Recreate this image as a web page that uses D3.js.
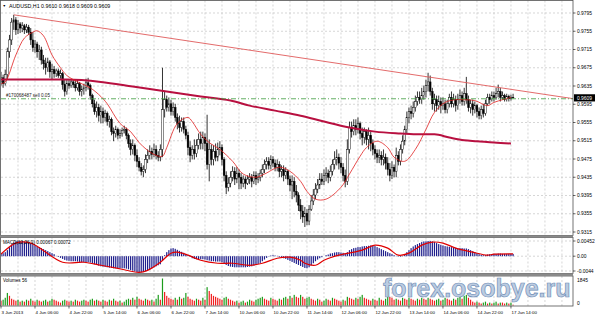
<!DOCTYPE html>
<html><head><meta charset="utf-8">
<script src="https://cdn.jsdelivr.net/npm/d3@7/dist/d3.min.js"></script>
<style>html,body{margin:0;padding:0;background:#fff;}svg{display:block;}</style>
</head><body>
<svg id="chart" width="595" height="316"></svg>
<script>
// ---------------- DATA (AUDUSD H1) ----------------
const openP = [
0.9644,0.9653,0.9640,0.9660,0.9710,0.9736,0.9775,0.9780,0.9758,0.9771,
0.9762,0.9767,0.9758,0.9764,0.9753,0.9736,0.9719,0.9727,0.9710,0.9714,
0.9692,0.9684,0.9675,0.9688,0.9666,0.9671,0.9662,0.9668,0.9658,0.9662,
0.9638,0.9623,0.9640,0.9636,0.9644,0.9638,0.9631,0.9640,0.9623,0.9627,
0.9631,0.9642,0.9636,0.9614,0.9596,0.9579,0.9588,0.9570,0.9579,0.9566,
0.9575,0.9557,0.9562,0.9535,0.9531,0.9540,0.9527,0.9531,0.9538,0.9540,
0.9527,0.9509,0.9496,0.9505,0.9483,0.9470,0.9457,0.9448,0.9452,0.9474,
0.9483,0.9492,0.9485,0.9496,0.9483,0.9479,0.9496,0.9583,0.9605,0.9588,
0.9596,0.9579,0.9588,0.9566,0.9553,0.9544,0.9557,0.9540,0.9527,0.9500,
0.9483,0.9496,0.9487,0.9505,0.9518,0.9509,0.9522,0.9509,0.9463,0.9496,
0.9474,0.9492,0.9479,0.9496,0.9500,0.9474,0.9439,0.9413,0.9422,0.9435,
0.9448,0.9431,0.9444,0.9435,0.9422,0.9431,0.9422,0.9431,0.9435,0.9426,
0.9439,0.9431,0.9435,0.9444,0.9452,0.9463,0.9470,0.9461,0.9474,0.9466,
0.9457,0.9463,0.9448,0.9452,0.9439,0.9448,0.9431,0.9418,0.9426,0.9404,
0.9396,0.9374,0.9361,0.9348,0.9356,0.9339,0.9365,0.9383,0.9396,0.9409,
0.9418,0.9431,0.9426,0.9439,0.9444,0.9435,0.9448,0.9463,0.9474,0.9479,
0.9466,0.9457,0.9439,0.9426,0.9496,0.9544,0.9535,0.9548,0.9540,0.9553,
0.9531,0.9522,0.9535,0.9518,0.9527,0.9509,0.9496,0.9487,0.9479,0.9483,
0.9474,0.9479,0.9466,0.9452,0.9439,0.9457,0.9448,0.9483,0.9470,0.9496,
0.9514,0.9540,0.9566,0.9579,0.9575,0.9588,0.9601,0.9610,0.9605,0.9614,
0.9623,0.9636,0.9644,0.9623,0.9596,0.9605,0.9592,0.9601,0.9592,0.9596,
0.9583,0.9596,0.9610,0.9596,0.9605,0.9592,0.9605,0.9614,0.9601,0.9618,
0.9605,0.9588,0.9596,0.9583,0.9592,0.9579,0.9570,0.9583,0.9575,0.9596,
0.9610,0.9605,0.9614,0.9610,0.9618,0.9623,0.9610,0.9614,0.9605,0.9612,
0.9607,0.9610];
const highP = [
0.9666,0.9660,0.9671,0.9719,0.9747,0.9784,0.9791,0.9786,0.9780,0.9775,
0.9775,0.9771,0.9771,0.9769,0.9762,0.9753,0.9736,0.9732,0.9725,0.9721,
0.9703,0.9697,0.9697,0.9692,0.9684,0.9679,0.9673,0.9673,0.9671,0.9666,
0.9649,0.9649,0.9649,0.9649,0.9649,0.9649,0.9649,0.9644,0.9636,0.9640,
0.9651,0.9653,0.9640,0.9618,0.9605,0.9601,0.9596,0.9592,0.9588,0.9583,
0.9579,0.9570,0.9566,0.9544,0.9548,0.9544,0.9540,0.9544,0.9548,0.9544,
0.9531,0.9518,0.9518,0.9509,0.9496,0.9479,0.9466,0.9461,0.9485,0.9496,
0.9505,0.9500,0.9509,0.9505,0.9492,0.9507,0.9675,0.9623,0.9614,0.9610,
0.9605,0.9599,0.9596,0.9575,0.9570,0.9566,0.9566,0.9548,0.9535,0.9514,
0.9505,0.9518,0.9518,0.9531,0.9535,0.9535,0.9531,0.9572,0.9518,0.9507,
0.9505,0.9509,0.9511,0.9514,0.9507,0.9479,0.9448,0.9435,0.9448,0.9459,
0.9457,0.9457,0.9452,0.9444,0.9439,0.9437,0.9439,0.9444,0.9442,0.9448,
0.9448,0.9444,0.9452,0.9463,0.9474,0.9479,0.9479,0.9483,0.9481,0.9474,
0.9474,0.9470,0.9461,0.9461,0.9457,0.9452,0.9439,0.9439,0.9435,0.9418,
0.9402,0.9387,0.9374,0.9370,0.9365,0.9374,0.9396,0.9409,0.9422,0.9431,
0.9444,0.9444,0.9452,0.9457,0.9452,0.9461,0.9474,0.9492,0.9496,0.9487,
0.9479,0.9466,0.9452,0.9518,0.9557,0.9557,0.9562,0.9562,0.9566,0.9557,
0.9544,0.9544,0.9540,0.9544,0.9535,0.9518,0.9505,0.9496,0.9496,0.9492,
0.9496,0.9487,0.9479,0.9466,0.9470,0.9463,0.9500,0.9492,0.9507,0.9527,
0.9548,0.9579,0.9588,0.9592,0.9601,0.9614,0.9623,0.9623,0.9631,0.9636,
0.9649,0.9664,0.9658,0.9631,0.9618,0.9614,0.9614,0.9610,0.9610,0.9605,
0.9605,0.9618,0.9623,0.9618,0.9614,0.9618,0.9627,0.9623,0.9631,0.9655,
0.9614,0.9605,0.9605,0.9601,0.9596,0.9588,0.9592,0.9596,0.9605,0.9618,
0.9618,0.9623,0.9623,0.9631,0.9638,0.9631,0.9623,0.9618,0.9618,0.9616,
0.9616,0.9618];
const lowP = [
0.9636,0.9631,0.9636,0.9649,0.9697,0.9725,0.9758,0.9747,0.9749,0.9751,
0.9753,0.9749,0.9751,0.9747,0.9725,0.9710,0.9708,0.9697,0.9692,0.9682,
0.9671,0.9660,0.9666,0.9653,0.9649,0.9653,0.9655,0.9653,0.9651,0.9627,
0.9612,0.9616,0.9629,0.9631,0.9631,0.9623,0.9625,0.9614,0.9612,0.9616,
0.9623,0.9627,0.9605,0.9588,0.9572,0.9566,0.9557,0.9553,0.9553,0.9557,
0.9548,0.9544,0.9527,0.9514,0.9522,0.9518,0.9520,0.9524,0.9531,0.9518,
0.9500,0.9483,0.9485,0.9470,0.9457,0.9448,0.9439,0.9435,0.9444,0.9466,
0.9474,0.9474,0.9479,0.9474,0.9470,0.9470,0.9479,0.9566,0.9579,0.9579,
0.9570,0.9570,0.9557,0.9540,0.9533,0.9535,0.9531,0.9518,0.9483,0.9468,
0.9474,0.9474,0.9479,0.9496,0.9496,0.9496,0.9492,0.9452,0.9426,0.9461,
0.9461,0.9470,0.9470,0.9483,0.9461,0.9426,0.9398,0.9404,0.9413,0.9426,
0.9418,0.9422,0.9409,0.9409,0.9413,0.9409,0.9418,0.9420,0.9413,0.9420,
0.9418,0.9422,0.9426,0.9435,0.9444,0.9452,0.9452,0.9452,0.9457,0.9448,
0.9448,0.9435,0.9435,0.9426,0.9431,0.9418,0.9404,0.9387,0.9391,0.9380,
0.9361,0.9343,0.9335,0.9326,0.9330,0.9330,0.9361,0.9374,0.9387,0.9400,
0.9409,0.9418,0.9418,0.9426,0.9422,0.9426,0.9439,0.9452,0.9461,0.9452,
0.9444,0.9426,0.9413,0.9418,0.9487,0.9522,0.9527,0.9527,0.9531,0.9518,
0.9505,0.9509,0.9505,0.9496,0.9492,0.9483,0.9474,0.9466,0.9466,0.9461,
0.9461,0.9452,0.9439,0.9426,0.9431,0.9435,0.9435,0.9461,0.9461,0.9487,
0.9505,0.9531,0.9553,0.9562,0.9566,0.9579,0.9592,0.9596,0.9596,0.9605,
0.9610,0.9623,0.9614,0.9583,0.9579,0.9579,0.9583,0.9575,0.9583,0.9575,
0.9575,0.9588,0.9588,0.9588,0.9579,0.9583,0.9596,0.9592,0.9592,0.9596,
0.9579,0.9575,0.9570,0.9575,0.9566,0.9562,0.9562,0.9566,0.9570,0.9592,
0.9596,0.9601,0.9601,0.9605,0.9610,0.9601,0.9605,0.9601,0.9601,0.9601,
0.9603,0.9609];
const closeP = [
0.9653,0.9640,0.9660,0.9710,0.9736,0.9775,0.9780,0.9758,0.9771,0.9762,
0.9767,0.9758,0.9764,0.9753,0.9736,0.9719,0.9727,0.9710,0.9714,0.9692,
0.9684,0.9675,0.9688,0.9666,0.9671,0.9662,0.9668,0.9658,0.9662,0.9638,
0.9623,0.9640,0.9636,0.9644,0.9638,0.9631,0.9640,0.9623,0.9627,0.9631,
0.9642,0.9636,0.9614,0.9596,0.9579,0.9588,0.9570,0.9579,0.9566,0.9575,
0.9557,0.9562,0.9535,0.9531,0.9540,0.9527,0.9531,0.9538,0.9540,0.9527,
0.9509,0.9496,0.9505,0.9483,0.9470,0.9457,0.9448,0.9452,0.9474,0.9483,
0.9492,0.9485,0.9496,0.9483,0.9479,0.9496,0.9583,0.9605,0.9588,0.9596,
0.9579,0.9588,0.9566,0.9553,0.9544,0.9557,0.9540,0.9527,0.9500,0.9483,
0.9496,0.9487,0.9505,0.9518,0.9509,0.9522,0.9509,0.9463,0.9496,0.9474,
0.9492,0.9479,0.9496,0.9500,0.9474,0.9439,0.9413,0.9422,0.9435,0.9448,
0.9431,0.9444,0.9435,0.9422,0.9431,0.9422,0.9431,0.9435,0.9426,0.9439,
0.9431,0.9435,0.9444,0.9452,0.9463,0.9470,0.9461,0.9474,0.9466,0.9457,
0.9463,0.9448,0.9452,0.9439,0.9448,0.9431,0.9418,0.9426,0.9404,0.9396,
0.9374,0.9361,0.9348,0.9356,0.9339,0.9365,0.9383,0.9396,0.9409,0.9418,
0.9431,0.9426,0.9439,0.9444,0.9435,0.9448,0.9463,0.9474,0.9479,0.9466,
0.9457,0.9439,0.9426,0.9496,0.9544,0.9535,0.9548,0.9540,0.9553,0.9531,
0.9522,0.9535,0.9518,0.9527,0.9509,0.9496,0.9487,0.9479,0.9483,0.9474,
0.9479,0.9466,0.9452,0.9439,0.9457,0.9448,0.9483,0.9470,0.9496,0.9514,
0.9540,0.9566,0.9579,0.9575,0.9588,0.9601,0.9610,0.9605,0.9614,0.9623,
0.9636,0.9644,0.9623,0.9596,0.9605,0.9592,0.9601,0.9592,0.9596,0.9583,
0.9596,0.9610,0.9596,0.9605,0.9592,0.9605,0.9614,0.9601,0.9618,0.9605,
0.9588,0.9596,0.9583,0.9592,0.9579,0.9570,0.9583,0.9575,0.9596,0.9610,
0.9605,0.9614,0.9610,0.9618,0.9623,0.9610,0.9614,0.9605,0.9612,0.9607,
0.9610,0.9609];
const volumes = [
330,396,528,858,660,462,396,330,396,264,
330,264,396,330,462,330,264,396,330,264,
330,396,264,330,462,396,330,264,198,330,
396,330,264,330,264,396,330,264,330,396,
330,264,396,462,330,396,330,264,396,330,
264,396,330,462,330,264,330,198,264,396,
462,396,528,396,594,462,396,330,462,396,
330,396,264,462,726,396,1845,924,660,528,
462,396,528,396,594,462,528,858,594,462,
396,330,462,396,330,528,396,1254,990,792,
660,594,528,462,396,528,594,462,396,330,
264,330,198,264,330,198,264,396,330,264,
396,462,528,594,462,396,330,528,462,396,
330,462,396,528,594,462,660,528,726,594,
528,726,594,462,528,594,462,396,330,462,
396,264,330,462,396,330,528,462,396,330,
264,396,330,594,528,462,396,528,462,594,
726,528,462,396,330,462,396,330,528,396,
330,462,1254,594,528,396,462,396,330,528,
462,396,528,462,396,330,462,396,528,462,
396,528,462,396,330,396,462,330,396,528,
462,396,330,462,396,528,594,462,660,726,
528,396,264,198,264,198,132,198,264,132,
198,132,198,264,132,198,198,132,198,132,
198,56];
const macdMain = [
0.0009,0.0009,0.0012,0.0018,0.0027,0.0035,0.0041,0.0044,0.0045,0.0045,
0.0045,0.0044,0.0043,0.0041,0.0039,0.0036,0.0033,0.0030,0.0027,0.0024,
0.0021,0.0018,0.0015,0.0012,0.0009,0.0006,0.0001,-0.0002,-0.0005,-0.0008,
-0.0011,-0.0013,-0.0014,-0.0015,-0.0015,-0.0015,-0.0016,-0.0017,-0.0018,-0.0018,
-0.0018,-0.0018,-0.0019,-0.0021,-0.0024,-0.0026,-0.0028,-0.0030,-0.0031,-0.0032,
-0.0033,-0.0034,-0.0035,-0.0036,-0.0036,-0.0036,-0.0036,-0.0036,-0.0036,-0.0037,
-0.0039,-0.0041,-0.0043,-0.0045,-0.0047,-0.0048,-0.0048,-0.0047,-0.0045,-0.0042,
-0.0039,-0.0036,-0.0033,-0.0030,-0.0027,-0.0024,-0.0012,0.0003,0.0012,0.0018,
0.0023,0.0024,0.0022,0.0019,0.0016,0.0013,0.0010,0.0007,0.0003,-0.0002,
-0.0006,-0.0008,-0.0009,-0.0009,-0.0009,-0.0009,-0.0010,-0.0012,-0.0013,-0.0015,
-0.0015,-0.0016,-0.0016,-0.0016,-0.0018,-0.0021,-0.0026,-0.0029,-0.0031,-0.0032,
-0.0033,-0.0033,-0.0033,-0.0033,-0.0033,-0.0033,-0.0032,-0.0031,-0.0030,-0.0028,
-0.0026,-0.0023,-0.0020,-0.0015,-0.0010,-0.0005,-0.0001,0.0002,0.0003,0.0002,
0.0001,-0.0002,-0.0004,-0.0006,-0.0008,-0.0011,-0.0014,-0.0017,-0.0020,-0.0023,
-0.0026,-0.0029,-0.0032,-0.0035,-0.0036,-0.0033,-0.0027,-0.0021,-0.0015,-0.0010,
-0.0006,-0.0003,0.0000,0.0003,0.0005,0.0008,0.0009,0.0011,0.0012,0.0012,
0.0011,0.0010,0.0009,0.0012,0.0018,0.0021,0.0024,0.0025,0.0027,0.0027,
0.0029,0.0030,0.0030,0.0031,0.0032,0.0031,0.0030,0.0027,0.0024,0.0021,
0.0018,0.0015,0.0012,0.0009,0.0006,0.0003,0.0001,-0.0001,-0.0002,0.0001,
0.0006,0.0012,0.0018,0.0024,0.0029,0.0033,0.0036,0.0039,0.0042,0.0044,
0.0044,0.00452,0.0045,0.0044,0.0042,0.0039,0.0036,0.0034,0.0032,0.0030,
0.0029,0.0028,0.0027,0.0026,0.0025,0.0024,0.0024,0.0024,0.0023,0.0023,
0.0021,0.0018,0.0015,0.0012,0.0009,0.0006,0.0004,0.0003,0.0003,0.0005,
0.0006,0.0006,0.0007,0.0007,0.0008,0.0008,0.0007,0.0007,0.0007,0.0007,
0.0007,0.00067];
const signalBars = [0,7,14,29,39,47,55,65,69,75,80,83,88,94,102,109,117,123,130,136,141,143,148,152,159,170,176,182,187,192,198,203,208,214,222,229,232,241];
const signalVals = [0.0006,0.0039,0.0039,-0.0018,-0.0018,-0.0027,-0.0036,-0.0048,-0.0042,-0.0018,0.0009,0.0012,0.0003,-0.0012,-0.0021,-0.0021,-0.0027,-0.0021,-0.0006,-0.0003,-0.0012,-0.0021,-0.0027,-0.0012,0.0003,0.0018,0.0033,0.0024,0.0003,0.0009,0.0033,0.0042,0.0039,0.0024,0.0012,0.0003,0.0006,0.00072];
const fastMaBars = [0,2,7,11,15,17,20,24,28,31,37,42,47,50,56,61,65,69,73,76,78,83,88,90,94,98,103,109,114,120,124,131,136,141,144,148,153,160,164,169,172,177,182,185,190,195,200,204,209,214,217,223,229,232,240];
const fastMaVals = [0.9640,0.9644,0.9703,0.9740,0.9753,0.9756,0.9745,0.9703,0.9675,0.9658,0.9642,0.9631,0.9612,0.9596,0.9553,0.9535,0.9511,0.9494,0.9483,0.9481,0.9500,0.9553,0.9566,0.9557,0.9529,0.9511,0.9496,0.9470,0.9442,0.9435,0.9442,0.9457,0.9448,0.9426,0.9404,0.9387,0.9387,0.9413,0.9442,0.9481,0.9500,0.9514,0.9500,0.9479,0.9470,0.9496,0.9540,0.9577,0.9599,0.9605,0.9605,0.9603,0.9592,0.9599,0.9610];
const slowMaBars = [0,14,31,47,62,78,94,108,117,129,141,152,164,176,188,197,204,211,218,224,232,240];
const slowMaVals = [0.9649,0.9649,0.9649,0.9644,0.9634,0.9623,0.9612,0.9603,0.9592,0.9581,0.9570,0.9557,0.9544,0.9535,0.9531,0.9529,0.9529,0.9522,0.9516,0.9514,0.9511,0.9509];
const trendBars = [6, 241];
const trendVals = [0.9791, 0.9627];
const orderPrice = 0.9607;
const orderLabel = "#170068487 sell 0.05";
const priceTicks = [0.9795,0.9755,0.9715,0.9675,0.9635,0.9595,0.9555,0.9515,0.9475,0.9435,0.9395,0.9355,0.9315];
const macdTicks = [0.00452, 0, -0.0044];
const macdTickLabels = ["0.00452","0.00","-0.0044"];
const volTicks = [1845, 0];
const timeBars = [0,16,32,48,64,80,96,112,128,144,160,176,192,208,224,240];
const timeLabels = ["3 Jun 2013","4 Jun 06:00","4 Jun 22:00","5 Jun 14:00","6 Jun 06:00","6 Jun 22:00","7 Jun 14:00","10 Jun 06:00","10 Jun 22:00","11 Jun 14:00","12 Jun 06:00","12 Jun 22:00","13 Jun 14:00","14 Jun 06:00","14 Jun 22:00","17 Jun 14:00"];
const titleText = "AUDUSD,H1 0.9610 0.9618 0.9609 0.9609";
const macdTitle = "MACD(12,26,9) 0.00067 0.00072";
const volTitle = "Volumes 56";
const lastPrice = 0.9609;

// ---------------- LAYOUT ----------------
const FONT = '"Liberation Sans", Arial, sans-serif';
const X0 = 1, X1 = 573;
const svg = d3.select("#chart");
const x = d3.scaleLinear().domain([0, 269.2]).range([X0, X1]);
const yP = d3.scaleLinear().domain([0.9315, 0.9795]).range([232, 13]);
const yM = d3.scaleLinear().domain([-0.0044, 0.00452]).range([271, 241]);
const yV = d3.scaleLinear().domain([0, 1845]).range([305.5, 278.5]);
const panels = [{id:"pm", t:0.5, b:235.5}, {id:"pd", t:237.5, b:273.5}, {id:"pv", t:276, b:306}];

const defs = svg.append("defs");
panels.forEach(p => defs.append("clipPath").attr("id", "clip-"+p.id)
  .append("rect").attr("x", X0).attr("y", p.t).attr("width", X1-X0).attr("height", p.b-p.t));

svg.append("rect").attr("width",595).attr("height",316).attr("fill","#fff");

// vertical grid (every 8 bars) in all panels
const gridBars = d3.range(8, 269, 8);
panels.forEach(p => {
  svg.append("g").selectAll("line").data(gridBars).join("line")
    .attr("x1", d => x(d)).attr("x2", d => x(d)).attr("y1", p.t).attr("y2", p.b)
    .attr("stroke", "#c4c4c4").attr("stroke-width", 0.7).attr("stroke-dasharray", "2,2");
});
// horizontal grid
svg.append("g").selectAll("line").data(priceTicks).join("line")
  .attr("x1", X0).attr("x2", X1).attr("y1", d => yP(d)).attr("y2", d => yP(d))
  .attr("stroke", "#c4c4c4").attr("stroke-width", 0.7).attr("stroke-dasharray", "2,2");
svg.append("g").selectAll("line").data(macdTicks).join("line")
  .attr("x1", X0).attr("x2", X1).attr("y1", d => yM(d)).attr("y2", d => yM(d))
  .attr("stroke", "#c4c4c4").attr("stroke-width", 0.7).attr("stroke-dasharray", "2,2");

// ---------------- MAIN PANEL ----------------
const gm = svg.append("g").attr("clip-path", "url(#clip-pm)");
const bars = d3.range(closeP.length);
gm.append("g").selectAll("line").data(bars).join("line")
  .attr("x1", i => x(i)).attr("x2", i => x(i))
  .attr("y1", i => yP(highP[i])).attr("y2", i => yP(lowP[i]))
  .attr("stroke", "#000").attr("stroke-width", 0.8);
gm.append("g").selectAll("rect").data(bars).join("rect")
  .attr("x", i => x(i) - 0.85).attr("width", 1.7)
  .attr("y", i => yP(Math.max(openP[i], closeP[i])))
  .attr("height", i => Math.max(0.6, yP(Math.min(openP[i], closeP[i])) - yP(Math.max(openP[i], closeP[i]))))
  .attr("fill", i => closeP[i] > openP[i] ? "#fff" : "#000")
  .attr("stroke", "#000").attr("stroke-width", 0.45);

// slow MA (thick)
const slowLine = d3.line().x((d,k) => x(slowMaBars[k])).y(d => yP(d)).curve(d3.curveMonotoneX);
gm.append("path").attr("d", slowLine(slowMaVals)).attr("fill","none")
  .attr("stroke","#b81040").attr("stroke-width",2);
// fast MA (thin)
const fastLine = d3.line().x((d,k) => x(fastMaBars[k])).y(d => yP(d)).curve(d3.curveCatmullRom.alpha(0.5));
gm.append("path").attr("d", fastLine(fastMaVals)).attr("fill","none")
  .attr("stroke","#e02020").attr("stroke-width",0.8);
// trend line (ray to right edge)
const slope = (trendVals[1]-trendVals[0])/(trendBars[1]-trendBars[0]);
const xEnd = x.domain()[1];
gm.append("line").attr("x1", x(trendBars[0])).attr("y1", yP(trendVals[0]))
  .attr("x2", x(xEnd)).attr("y2", yP(trendVals[0] + slope*(xEnd-trendBars[0])))
  .attr("stroke","#e05a5a").attr("stroke-width",0.9);
// order line
gm.append("line").attr("x1", X0).attr("x2", X1).attr("y1", yP(orderPrice)).attr("y2", yP(orderPrice))
  .attr("stroke","#3c9a3c").attr("stroke-width",0.8).attr("stroke-dasharray","5,2,1,2");
svg.append("text").attr("x", 6).attr("y", yP(orderPrice)-1.6).text(orderLabel)
  .attr("font-family", FONT).attr("font-size", 4.6).attr("fill", "#222");

// title
svg.append("text").attr("x", 2.5).attr("y", 7.3).text("▼").attr("font-family", FONT).attr("font-size", 3.6).attr("fill","#000");
svg.append("text").attr("x", 9).attr("y", 7.6).text(titleText).attr("font-family", FONT).attr("font-size", 5.3).attr("fill","#000");

// ---------------- MACD PANEL ----------------
const gd = svg.append("g").attr("clip-path", "url(#clip-pd)");
gd.append("g").selectAll("rect").data(bars).join("rect")
  .attr("x", i => x(i) - 0.6).attr("width", 1.2)
  .attr("y", i => Math.min(yM(0), yM(macdMain[i])))
  .attr("height", i => Math.abs(yM(macdMain[i]) - yM(0)))
  .attr("fill", "#1e1e8c");
const sigLine = d3.line().x((d,k) => x(signalBars[k])).y(d => yM(d)).curve(d3.curveCatmullRom.alpha(0.5));
gd.append("path").attr("d", sigLine(signalVals)).attr("fill","none").attr("stroke","#e00000").attr("stroke-width",1.2);
svg.append("text").attr("x", 3).attr("y", 243.8).text(macdTitle).attr("font-family", FONT).attr("font-size", 4.6).attr("fill","#000");

// ---------------- VOLUME PANEL ----------------
const gv = svg.append("g").attr("clip-path", "url(#clip-pv)");
gv.append("g").selectAll("rect").data(bars).join("rect")
  .attr("x", i => x(i) - 0.6).attr("width", 1.2)
  .attr("y", i => yV(volumes[i])).attr("height", i => yV(0) - yV(volumes[i]))
  .attr("fill", i => (i > 0 && volumes[i] > volumes[i-1]) ? "#1c9c1c" : "#f02020");
svg.append("text").attr("x", 3).attr("y", 282.3).text(volTitle).attr("font-family", FONT).attr("font-size", 4.6).attr("fill","#000");

// ---------------- FRAMES ----------------
panels.forEach(p => svg.append("rect").attr("x", X0-0.5).attr("y", p.t).attr("width", X1-X0+0.5).attr("height", p.b-p.t)
  .attr("fill","none").attr("stroke","#505050").attr("stroke-width",0.8));
svg.append("rect").attr("x",0).attr("y",235.5).attr("width",X1).attr("height",2).attr("fill","#8a8a8a");
svg.append("rect").attr("x",0).attr("y",273.5).attr("width",X1).attr("height",2.5).attr("fill","#8a8a8a");

// watermark (natural width ~190px, ends before the right-axis labels)
svg.append("text").attr("x", 383).attr("y", 297).text("forex.osobye.ru")
  .attr("font-family", FONT).attr("font-weight","bold").attr("font-size", 25)
  .attr("fill","#b6c7de").attr("fill-opacity",0.92).attr("stroke","#7290b8").attr("stroke-width",0.7);

// ---------------- AXES LABELS ----------------
const ax = svg.append("g").attr("font-family", FONT).attr("font-size", 4.9).attr("fill", "#000");
priceTicks.forEach(p => {
  ax.append("line").attr("x1", X1).attr("x2", X1+2.5).attr("y1", yP(p)).attr("y2", yP(p)).attr("stroke","#000").attr("stroke-width",0.6);
  ax.append("text").attr("x", X1+4).attr("y", yP(p)+1.7).text(p.toFixed(4));
});
macdTicks.forEach((m,k) => {
  ax.append("line").attr("x1", X1).attr("x2", X1+2.5).attr("y1", yM(m)).attr("y2", yM(m)).attr("stroke","#000").attr("stroke-width",0.6);
  ax.append("text").attr("x", X1+4).attr("y", yM(m)+1.7).text(macdTickLabels[k]);
});
volTicks.forEach(v => {
  ax.append("text").attr("x", X1+4).attr("y", (v === 0 ? 304.5 : 281.5)).text(String(v));
});
// current price box
svg.append("rect").attr("x", X1+1).attr("y", yP(lastPrice)-3.6).attr("width", 21).attr("height", 7.2).attr("fill","#000");
svg.append("text").attr("x", X1+4).attr("y", yP(lastPrice)+1.8).text(lastPrice.toFixed(4))
  .attr("font-family", FONT).attr("font-size", 4.9).attr("fill","#fff");
// time axis
timeBars.forEach((b,k) => {
  ax.append("line").attr("x1", x(b)).attr("x2", x(b)).attr("y1", 306).attr("y2", 308.5).attr("stroke","#000").attr("stroke-width",0.6);
  ax.append("text").attr("x", x(b)+0.5).attr("y", 313.5).attr("font-size", 4.4).text(timeLabels[k]);
});
</script>
</body></html>
